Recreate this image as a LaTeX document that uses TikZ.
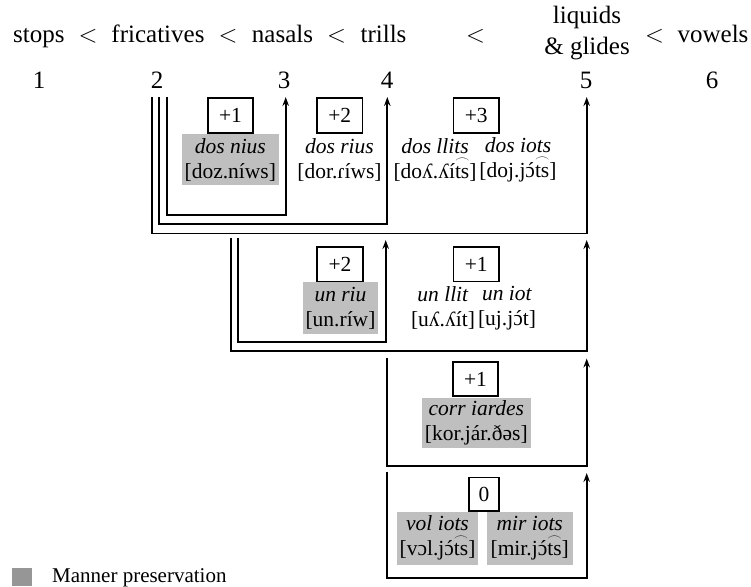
\documentclass[tikz,border=0pt]{standalone}
\usepackage{fontspec}
\usepackage{graphicx}
\setmainfont{Liberation Serif}
\usetikzlibrary{arrows.meta}
\definecolor{mygray}{RGB}{191,191,191}
\definecolor{leggray}{RGB}{150,150,150}
\newsavebox\tiebx
\newsavebox\acbx
\newcommand\tiets[1]{\sbox\tiebx{#1}\rlap{\hbox to\wd\tiebx{\hss\raisebox{0.72em}{\resizebox{\wd\tiebx}{0.2em}{$\frown$}}\hss}}\usebox\tiebx}
\newcommand\oac{\sbox\acbx{ɔ}\rlap{\hbox to\wd\acbx{\hss\kern0.06em ´\hss}}\usebox\acbx}
\begin{document}
\begin{tikzpicture}[x=1pt,y=-1pt,
  hdr/.style={font=\fontsize{25}{30}\selectfont, inner sep=0pt, anchor=base},
  numbox/.style={draw, line width=1.6pt, font=\fontsize{21.5}{25}\selectfont, minimum width=45.5pt, minimum height=34.5pt, inner sep=0pt},
  ex/.style={font=\fontsize{21.5}{25}\selectfont, align=center, inner sep=0pt},
  gbox/.style={ex, fill=mygray},
  conn/.style={line width=1.8pt, -{Stealth[length=9pt,width=6.5pt,inset=3pt]}}]
\useasboundingbox (0,0) rectangle (751,586);
% header
\node[hdr] (hstops) at (38.8,42) {stops};
\node[hdr] (lt1) at (88,42) {$<$};
\node[hdr] (hfric) at (158,42) {fricatives};
\node[hdr] (lt2) at (228.2,42) {$<$};
\node[hdr] (hnas) at (282.5,42) {nasals};
\node[hdr] (lt3) at (336.7,42) {$<$};
\node[hdr] (htri) at (383.5,42) {trills};
\node[hdr] (lt4) at (475.5,42) {$<$};
\node[hdr] (hliq) at (587,24) {liquids};
\node[hdr] (hgli) at (587,54) {\& glides};
\node[hdr] (lt5) at (654.7,42) {$<$};
\node[hdr] (hvow) at (713,42) {vowels};
% numbers
\node[hdr] (d1) at (39,88) {1};
\node[hdr] (d2) at (157,88) {2};
\node[hdr] (d3) at (284,88) {3};
\node[hdr] (d4) at (387,88) {4};
\node[hdr] (d5) at (586,88) {5};
\node[hdr] (d6) at (712,88) {6};
% section 1
\node[gbox, minimum width=97pt, minimum height=51pt] (g1) at (230.3,159.5) {\textit{dos nius}\\{[}doz.níws{]}};
\node[numbox] (n1) at (230.5,115.5) {+1};
\node[numbox] (n2) at (339.7,115.5) {+2};
\node[ex] (t2) at (339.5,159.5) {\textit{dos rius}\\{[}dor.ɾíws{]}};
\node[numbox] (n3) at (476.2,115.5) {+3};
\node[ex] (t3a) at (435,159.5) {\textit{dos llits}\\{[}doʎ.ʎí\tiets{ts}{]}};
\node[ex] (t3b) at (518,159.5) {\textit{dos iots}\\{[}doj.j\oac\tiets{ts}{]}};
% section 2
\node[gbox, minimum width=75.6pt, minimum height=51.7pt] (g4) at (340.5,308.2) {\textit{un riu}\\{[}un.ríw{]}};
\node[numbox] (n4) at (340,264.2) {+2};
\node[numbox] (n5) at (476.2,264.2) {+1};
\node[ex] (t5a) at (443,308.2) {\textit{un llit}\\{[}uʎ.ʎít{]}};
\node[ex] (t5b) at (507,308.2) {\textit{un iot}\\{[}uj.j\oac t{]}};
% section 3
\node[gbox, minimum width=109.3pt, minimum height=50.6pt] (g6) at (476.3,423) {\textit{corr iardes}\\{[}kor.jár.ðəs{]}};
\node[numbox] (n6) at (475.5,379) {+1};
% section 4
\node[gbox, minimum width=81.6pt, minimum height=53.3pt] (g7a) at (437.5,538.3) {\textit{vol iots}\\{[}vɔl.j\oac\tiets{ts}{]}};
\node[gbox, minimum width=86pt, minimum height=53.3pt] (g7b) at (529.7,538.3) {\textit{mir iots}\\{[}mir.j\oac\tiets{ts}{]}};
\node[numbox, minimum width=30pt, minimum height=33.4pt] (n7) at (484,494) {0};
% connectors
\coordinate (s1) at (167.3,97); \coordinate (k1) at (167.3,215.3); \coordinate (e1) at (285.7,97);
\coordinate (s2) at (159.3,97); \coordinate (k2) at (159.3,224.3); \coordinate (e2) at (387.3,97);
\coordinate (s3) at (151.7,97); \coordinate (k3) at (151.7,233.5); \coordinate (e3) at (586.7,97);
\draw[conn] (s1) -- (k1) -| (e1);
\draw[conn] (s2) -- (k2) -| (e2);
\draw[conn] (s3) -- (k3) -| (e3);
\coordinate (s4) at (238.3,238); \coordinate (k4) at (238.3,342); \coordinate (e4) at (385.7,240);
\coordinate (s5) at (231,238); \coordinate (k5) at (231,351); \coordinate (e5) at (586.7,240);
\draw[conn] (s4) -- (k4) -| (e4);
\draw[conn] (s5) -- (k5) -| (e5);
\coordinate (s6) at (386.7,358); \coordinate (k6) at (386.7,466); \coordinate (e6) at (586.7,358.5);
\draw[conn] (s6) -- (k6) -| (e6);
\coordinate (s7) at (386.7,471.5); \coordinate (k7) at (386.7,578.3); \coordinate (e7) at (586.7,473);
\draw[conn] (s7) -- (k7) -| (e7);
% legend
\node[fill=leggray, minimum width=20pt, minimum height=18pt, inner sep=0pt] (leg) at (22,577) {};
\node[font=\fontsize{21}{25}\selectfont, inner sep=0pt, anchor=base west] (legt) at (52,582) {Manner preservation};
\end{tikzpicture}
\end{document}
